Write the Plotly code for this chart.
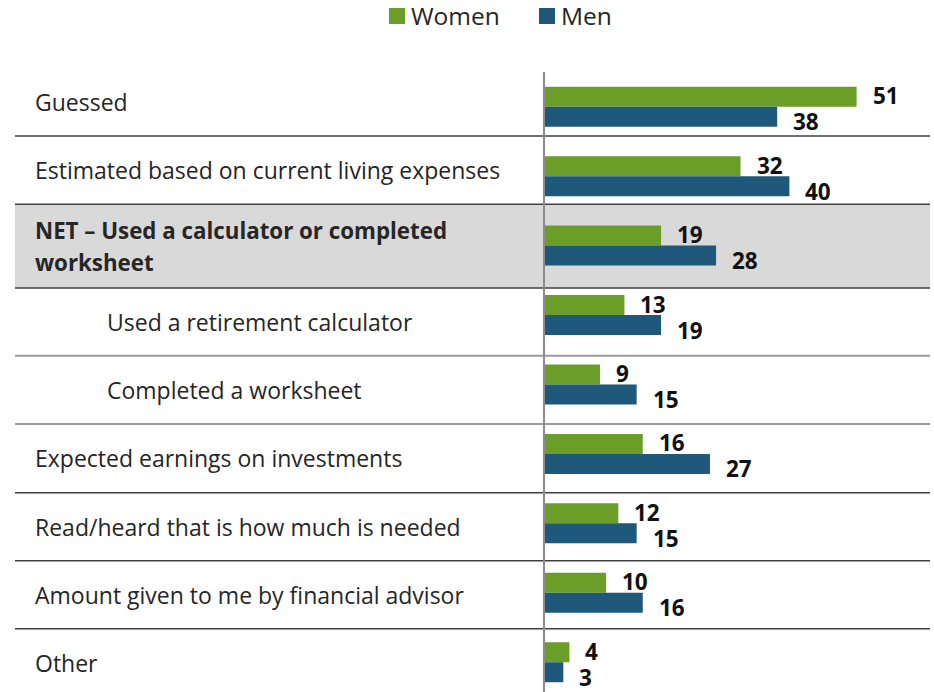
import plotly.graph_objects as go

# ---- data -------------------------------------------------------------
categories = [
    "Guessed",
    "Estimated based on current living expenses",
    "NET – Used a calculator or completed<br>worksheet",
    "Used a retirement calculator",
    "Completed a worksheet",
    "Expected earnings on investments",
    "Read/heard that is how much is needed",
    "Amount given to me by financial advisor",
    "Other",
]
women = [51, 32, 19, 13, 9, 16, 12, 10, 4]
men = [38, 40, 28, 19, 15, 27, 15, 16, 3]
series_names = ["Women", "Men"]
sub_items = [3, 4]       # indented rows
net_row = 2              # highlighted, bold row

# ---- layout geometry (pixels) ---------------------------------------
W, H = 934, 692
PLOT_L, PLOT_T = 545, 72
PLOT_W, PLOT_H = W - PLOT_L, H - PLOT_T
PX_PER_UNIT = 6.11
ROW_PX = 69.44
row_edges = [68, 136, 204.3, 288, 355.7, 424, 492.7, 560.7, 628.7, 697]

GREEN = "#6b9e28"
BLUE = "#1e587a"
FONT = "Open Sans"
TEXT = "#262626"


def px_x(p):
    return (p - PLOT_L) / PLOT_W


def px_y(p):
    return 1 - (p - PLOT_T) / PLOT_H


idx = list(range(len(categories)))

fig = go.Figure()
fig.add_trace(go.Bar(
    y=idx, x=women, name=series_names[0], orientation="h",
    marker=dict(color=GREEN, line=dict(width=0)),
    width=0.288, offset=-0.288, showlegend=False,
))
fig.add_trace(go.Bar(
    y=idx, x=men, name=series_names[1], orientation="h",
    marker=dict(color=BLUE, line=dict(width=0)),
    width=0.288, offset=0, showlegend=False,
))

shapes = []
annotations = []

# highlighted NET row
shapes.append(dict(
    type="rect", xref="paper", yref="paper", layer="below",
    x0=px_x(15), x1=px_x(930),
    y0=px_y(row_edges[net_row]), y1=px_y(row_edges[net_row + 1]),
    fillcolor="#d9d9d9", line=dict(width=0),
))
# row separators
for k, e in enumerate(row_edges[1:-1], start=1):
    light = (k - 1) in sub_items
    shapes.append(dict(
        type="line", xref="paper", yref="paper", layer="below",
        x0=px_x(15), x1=px_x(930), y0=px_y(e), y1=px_y(e),
        line=dict(color="#9a9a9a" if light else "#404040",
                  width=2 if light else 1.4),
    ))

# legend: coloured squares followed by series names
legend_items = [(series_names[0], GREEN, 389), (series_names[1], BLUE, 539)]
for name, color, x0 in legend_items:
    shapes.append(dict(
        type="rect", xref="paper", yref="paper",
        x0=px_x(x0), x1=px_x(x0 + 16), y0=px_y(8), y1=px_y(24),
        fillcolor=color, line=dict(width=0),
    ))
    annotations.append(dict(
        xref="paper", yref="paper", x=px_x(x0 + 20), y=px_y(15.5),
        xanchor="left", yanchor="middle", showarrow=False,
        text=name, font=dict(family=FONT, size=24.5, color=TEXT),
    ))

# category labels
for i, label in enumerate(categories):
    center = (row_edges[i] + row_edges[i + 1]) / 2
    x0 = 105 if i in sub_items else 33
    lines = label.split("<br>")
    gap = 32
    for j, line in enumerate(lines):
        yc = center + (j - (len(lines) - 1) / 2) * gap
        if i == net_row:
            text, size = f"<b>{line}</b>", 22.3
        else:
            text, size = line, 23
        annotations.append(dict(
            xref="paper", yref="paper", x=px_x(x0), y=px_y(yc),
            xanchor="left", yanchor="middle", showarrow=False,
            text=text, font=dict(family=FONT, size=size, color=TEXT),
        ))

# value labels
for i in idx:
    annotations.append(dict(
        xref="x", yref="y", x=women[i], y=i - 0.144,
        xanchor="left", yanchor="middle", xshift=14, yshift=1,
        showarrow=False, text=f"<b>{women[i]}</b>",
        font=dict(family=FONT, size=22.5, color="#111111"),
    ))
    annotations.append(dict(
        xref="x", yref="y", x=men[i], y=i + 0.144,
        xanchor="left", yanchor="middle", xshift=14, yshift=-5,
        showarrow=False, text=f"<b>{men[i]}</b>",
        font=dict(family=FONT, size=22.5, color="#111111"),
    ))

fig.update_layout(
    width=W, height=H,
    margin=dict(l=PLOT_L, r=0, t=PLOT_T, b=0, pad=0),
    paper_bgcolor="white", plot_bgcolor="rgba(0,0,0,0)",
    barmode="group",
    showlegend=False,
    shapes=shapes,
    annotations=annotations,
    xaxis=dict(range=[0, PLOT_W / PX_PER_UNIT], visible=False, fixedrange=True),
    yaxis=dict(
        range=[PLOT_H / ROW_PX - 0.5, -0.5],
        showline=True, linecolor="#8c8c8c", linewidth=2,
        showticklabels=False, showgrid=False, zeroline=False, ticks="",
    ),
)

fig.write_html("out.html")
